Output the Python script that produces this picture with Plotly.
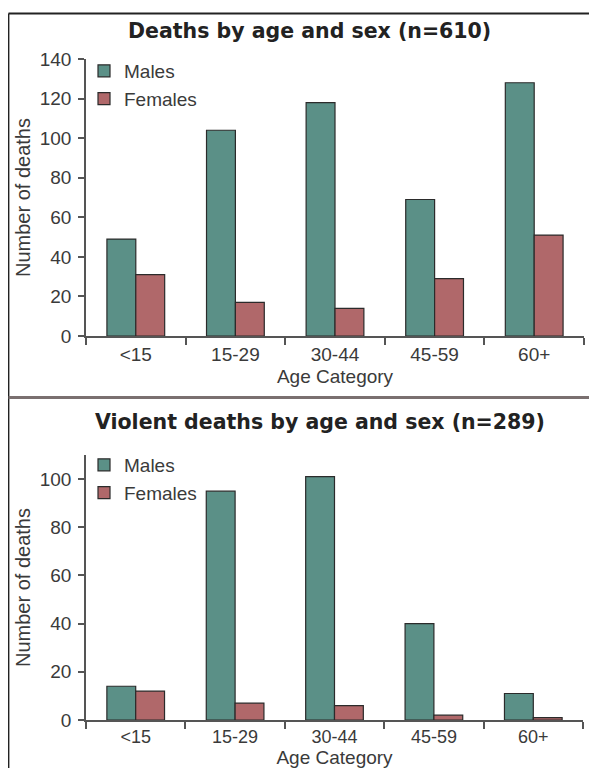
import plotly.graph_objects as go

# The page body has an 8px margin, so screen coordinate s maps to figure coordinate s - 8.
OFF = 8
W, H = 597 - OFF, 768 - OFF

categories = ["<15", "15-29", "30-44", "45-59", "60+"]
all_males = [49, 104, 118, 69, 128]
all_females = [31, 17, 14, 29, 51]
violent_males = [14, 95, 101, 40, 11]
violent_females = [12, 7, 6, 2, 1]

title_top = "Deaths by age and sex (n=610)"
title_bottom = "Violent deaths by age and sex (n=289)"
y_title = "Number of deaths"
x_title = "Age Category"

MALE_COLOR = "#5b9087"
FEMALE_COLOR = "#b0686a"
EDGE = "#2b2b2b"
AXIS = "#555555"
TXT = "#3a3a3a"
FONT = "Liberation Sans, Arial, sans-serif"

def px(x):
    return (x - OFF) / W

def py(y):
    return 1 - (y - OFF) / H

fig = go.Figure()

def add_pair(males, females, xa, ya, legend):
    fig.add_trace(go.Bar(x=categories, y=males, name="Males", xaxis=xa, yaxis=ya,
                         marker=dict(color=MALE_COLOR, line=dict(color=EDGE, width=1.2)),
                         legend=legend))
    fig.add_trace(go.Bar(x=categories, y=females, name="Females", xaxis=xa, yaxis=ya,
                         marker=dict(color=FEMALE_COLOR, line=dict(color=EDGE, width=1.2)),
                         legend=legend))

add_pair(all_males, all_females, "x", "y", "legend")
add_pair(violent_males, violent_females, "x2", "y2", "legend2")

def xaxis_style(standoff, tsize):
    return dict(type="category", showline=True, linecolor=AXIS, linewidth=1.5,
                ticks="outside", tickson="boundaries", ticklen=7, tickcolor=AXIS, tickwidth=1.5,
                showgrid=False, zeroline=False, automargin=False,
                tickfont=dict(family=FONT, size=tsize, color=TXT),
                title=dict(text=x_title, font=dict(family=FONT, size=19, color=TXT),
                           standoff=standoff))

ycommon = dict(showline=True, linecolor=AXIS, linewidth=1.5,
               ticks="outside", ticklen=6, tickcolor=AXIS, tickwidth=1.5,
               showgrid=False, zeroline=False, dtick=20, automargin=False,
               ticklabelstandoff=3,
               tickfont=dict(family=FONT, size=19, color=TXT),
               title=dict(text=y_title, font=dict(family=FONT, size=20, color=TXT), standoff=4))

legend_common = dict(xanchor="left", yanchor="top", bgcolor="rgba(0,0,0,0)",
                     font=dict(family=FONT, size=19, color=TXT), tracegroupgap=0, itemwidth=30)

fig.update_layout(
    width=W, height=H, autosize=False,
    margin=dict(l=0, r=0, t=0, b=0, autoexpand=False),
    paper_bgcolor="white", plot_bgcolor="white",
    barmode="group", bargap=0.42, bargroupgap=0,
    xaxis=dict(xaxis_style(6, 19), domain=[px(86), px(584)], anchor="y"),
    yaxis=dict(ycommon, domain=[py(336), py(59)], range=[0, 140], anchor="x"),
    xaxis2=dict(xaxis_style(9, 18), domain=[px(86), px(583)], anchor="y2"),
    yaxis2=dict(ycommon, domain=[py(720), py(455)], range=[0, 110], anchor="x2"),
    legend=dict(legend_common, x=px(84), y=py(52)),
    legend2=dict(legend_common, x=px(84), y=py(446)),
    annotations=[
        dict(text=title_top, x=px(309), y=py(31), xref="paper", yref="paper",
             showarrow=False, xanchor="center", yanchor="middle",
             font=dict(family="DejaVu Sans", size=20.5, color="#222222", weight="bold")),
        dict(text=title_bottom, x=px(320), y=py(422), xref="paper", yref="paper",
             showarrow=False, xanchor="center", yanchor="middle",
             font=dict(family="DejaVu Sans", size=20.5, color="#222222", weight="bold")),
    ],
    shapes=[
        dict(type="line", xref="paper", yref="paper", x0=px(8.5), x1=1, y0=py(13.5), y1=py(13.5),
             line=dict(color="#222222", width=1.8)),
        dict(type="line", xref="paper", yref="paper", x0=px(8.5), x1=px(8.5), y0=py(13.5), y1=0,
             line=dict(color="#222222", width=1.8)),
        dict(type="line", xref="paper", yref="paper", x0=px(8.5), x1=1, y0=py(397.5), y1=py(397.5),
             line=dict(color="#7a7070", width=3)),
    ],
)

fig.write_html("out.html")
